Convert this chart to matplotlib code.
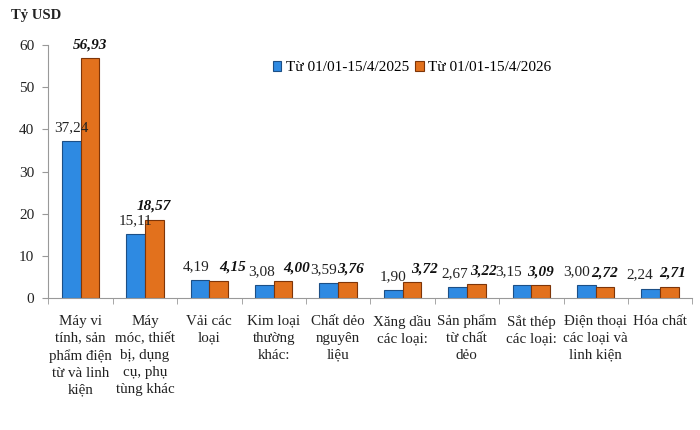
import matplotlib
matplotlib.use("Agg")
import matplotlib.pyplot as plt
import numpy as np

categories = [
    "Máy vi\ntính, sản\nphẩm điện\ntừ và linh\nkiện",
    "Máy\nmóc, thiết\nbị, dụng\ncụ, phụ\ntùng khác",
    "Vải các\nloại",
    "Kim loại\nthường\nkhác:",
    "Chất dẻo\nnguyên\nliệu",
    "Xăng dầu\ncác loại:",
    "Sản phẩm\ntừ chất\ndẻo",
    "Sắt thép\ncác loại:",
    "Điện thoại\ncác loại và\nlinh kiện",
    "Hóa chất",
]
values_2025 = [37.24, 15.11, 4.19, 3.08, 3.59, 1.90, 2.67, 3.15, 3.00, 2.24]
values_2026 = [56.93, 18.57, 4.15, 4.00, 3.76, 3.72, 3.22, 3.09, 2.72, 2.71]
series_names = ["Từ 01/01-15/4/2025", "Từ 01/01-15/4/2026"]
yticks = [0, 10, 20, 30, 40, 50, 60]

# label nudges (points) to avoid overlap, as in the reference
label_dx_2025 = [0, 0, -3, -2, -4, 0, -2, -10, -7, -8]
label_dx_2026 = [0, 0, 10, 10, 2, 9, 5, 0, 0, 2]

def fmt(v):
    return f"{v:.2f}".replace(".", ",")

plt.rcParams['font.family'] = ['Liberation Serif', 'DejaVu Serif']

fig = plt.figure(figsize=(7, 4.3), dpi=100)
ax = fig.add_axes([0.069, 0.307, 0.92, 0.588])

x = np.arange(len(categories))
w = 0.29
ax.bar(x - w/2, values_2025, w, color="#2E8AE2", edgecolor="#1C4F86", linewidth=0.8, label=series_names[0])
ax.bar(x + w/2, values_2026, w, color="#E2711D", edgecolor="#7E3508", linewidth=0.8, label=series_names[1])

for xi, v, dx in zip(x - w/2, values_2025, label_dx_2025):
    ax.annotate(fmt(v), (xi, v), xytext=(dx, 5), textcoords="offset points",
                ha="center", va="bottom", fontsize=11, color="#222222")
for xi, v, dx in zip(x + w/2, values_2026, label_dx_2026):
    ax.annotate(fmt(v), (xi, v), xytext=(dx, 5), textcoords="offset points",
                ha="center", va="bottom", fontsize=11, color="#111111",
                fontweight="bold", fontstyle="italic")

ax.set_xlim(-0.5, len(categories) - 0.5)
ax.set_ylim(0, 60)
ax.set_yticks(yticks)
ax.set_yticklabels([str(t) for t in yticks], fontsize=11, color="#222222")
ax.set_xticks(x)
ax.set_xticklabels(categories, fontsize=10.8, color="#222222", linespacing=1.4, va="top")
ax.tick_params(axis="x", length=0, pad=12)
ax.set_xticks(np.arange(-0.5, len(categories), 1), minor=True)
ax.tick_params(axis="x", which="minor", length=4, color="#999999")
ax.tick_params(axis="y", length=4, color="#999999", pad=6)

for s in ["top", "right"]:
    ax.spines[s].set_visible(False)
ax.spines["left"].set_color("#999999")
ax.spines["bottom"].set_color("#999999")

fig.text(0.016, 0.965, "Tỷ USD", fontsize=10.5, fontweight="bold", color="#222222", va="center")

ax.legend(loc="upper center", bbox_to_anchor=(0.565, 0.99), ncol=2, frameon=False,
          fontsize=11, handlelength=0.55, handleheight=0.55, handletextpad=0.3,
          columnspacing=0.4)

fig.savefig("out.png", dpi=100)
